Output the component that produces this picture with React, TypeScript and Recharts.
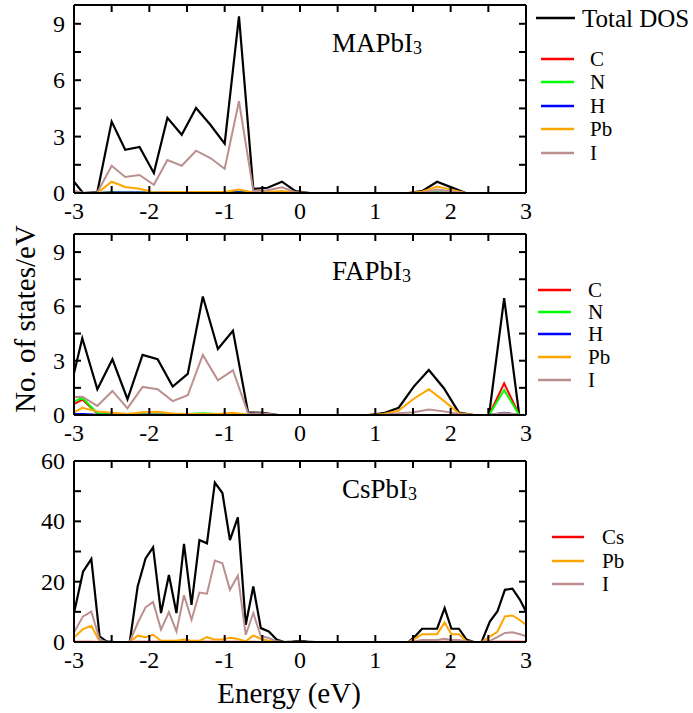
import { Line, LineChart, XAxis, YAxis } from "recharts";

const FONT = '"Liberation Serif", "Times New Roman", serif';
const TICK = 7;
const AXIS = { stroke: "#000", strokeWidth: 2 };

const xTicks = [-3, -2.5, -2, -1.5, -1, -0.5, 0, 0.5, 1, 1.5, 2, 2.5, 3];
const yTicksSmall = [0, 1.5, 3, 4.5, 6, 7.5, 9];
const yTicksCs = [0, 10, 20, 30, 40, 50, 60];

// MAPbI3
const mapE = [-3.0, -2.88, -2.69, -2.5, -2.32, -2.13, -1.94, -1.76, -1.57, -1.38, -1.19, -1.0, -0.81, -0.62, -0.43, -0.24, -0.06, 0.13, 1.44, 1.63, 1.82, 2.01, 2.2, 3.0];
const mapTotal = [0.6, 0, 0.05, 3.8, 2.3, 2.45, 1.06, 4.0, 3.1, 4.52, 3.63, 2.62, 9.4, 0.22, 0.28, 0.6, 0.1, 0, 0, 0.12, 0.6, 0.3, 0, 0];
const mapC = [0.01, 0, 0, 0.02, 0.01, 0.01, 0, 0.01, 0.01, 0.01, 0.01, 0.01, 0.02, 0, 0, 0, 0, 0, 0, 0, 0.01, 0, 0, 0];
const mapN = [0.03, 0, 0, 0.04, 0.03, 0.03, 0.01, 0.03, 0.02, 0.03, 0.03, 0.02, 0.05, 0.01, 0.01, 0.01, 0, 0, 0, 0, 0.02, 0.01, 0, 0];
const mapH = [0.02, 0, 0, 0.03, 0.02, 0.02, 0.01, 0.02, 0.02, 0.02, 0.02, 0.02, 0.04, 0.01, 0.01, 0.01, 0, 0, 0, 0, 0.01, 0, 0, 0];
const mapPb = [0.05, 0, 0, 0.6, 0.32, 0.23, 0.03, 0.05, 0.05, 0.05, 0.05, 0.05, 0.18, 0.03, 0.05, 0.1, 0.02, 0, 0, 0.08, 0.34, 0.18, 0, 0];
const mapI = [0.12, 0, 0.03, 1.45, 0.85, 0.96, 0.44, 1.75, 1.45, 2.25, 1.86, 1.29, 4.88, 0.12, 0.15, 0.3, 0.04, 0, 0, 0.03, 0.18, 0.08, 0, 0];

// FAPbI3
const faE = [-3.0, -2.89, -2.69, -2.49, -2.29, -2.09, -1.89, -1.69, -1.49, -1.29, -1.09, -0.89, -0.69, -0.49, -0.29, 0.91, 1.11, 1.31, 1.51, 1.71, 1.91, 2.11, 2.31, 2.51, 2.71, 2.91, 3.0];
const faTotal = [2.3, 4.24, 1.42, 3.08, 0.87, 3.32, 3.08, 1.57, 2.27, 6.55, 3.65, 4.65, 0.15, 0.12, 0, 0, 0.1, 0.4, 1.57, 2.49, 1.48, 0.13, 0, 0, 6.46, 0, 0];
const faC = [0.6, 0.85, 0.08, 0.03, 0.02, 0.02, 0.02, 0.02, 0.03, 0.05, 0.03, 0.03, 0, 0, 0, 0, 0, 0, 0, 0, 0, 0, 0, 0, 1.75, 0, 0];
const faN = [0.74, 0.95, 0.1, 0.05, 0.03, 0.03, 0.03, 0.03, 0.05, 0.1, 0.05, 0.05, 0, 0, 0, 0, 0, 0, 0, 0, 0, 0, 0, 0, 1.38, 0, 0];
const faH = [0.05, 0.05, 0.02, 0.02, 0.01, 0.01, 0.01, 0.01, 0.01, 0.02, 0.01, 0.01, 0, 0, 0, 0, 0, 0, 0, 0, 0, 0, 0, 0, 0.13, 0, 0];
const faPb = [0.15, 0.4, 0.2, 0.12, 0.05, 0.15, 0.18, 0.08, 0.05, 0.05, 0.05, 0.12, 0.02, 0.02, 0, 0, 0.05, 0.24, 0.9, 1.42, 0.78, 0.1, 0, 0, 0.1, 0, 0];
const faI = [1.0, 1.01, 0.5, 1.33, 0.37, 1.55, 1.42, 0.77, 1.09, 3.32, 1.92, 2.47, 0.1, 0.08, 0, 0, 0.02, 0.1, 0.15, 0.3, 0.2, 0.05, 0, 0, 0.08, 0, 0];

// CsPbI3
const csE = [-3.0, -2.88, -2.77, -2.66, -2.57, -2.46, -2.26, -2.155, -2.05, -1.95, -1.845, -1.74, -1.64, -1.54, -1.44, -1.335, -1.235, -1.13, -1.03, -0.93, -0.825, -0.72, -0.62, -0.52, -0.415, -0.31, -0.21, -0.1, 0.0, 0.1, 0.2, 1.44, 1.54, 1.62, 1.72, 1.82, 1.92, 2.01, 2.11, 2.21, 2.31, 2.41, 2.52, 2.62, 2.72, 2.82, 2.92, 3.0];
const csTotal = [9.6, 23.3, 27.5, 1.9, 0.2, 0, 0, 18.4, 27.7, 31.4, 9.6, 22.2, 9.6, 32.5, 12.3, 33.8, 32.7, 52.8, 49.4, 33.8, 41.3, 5.7, 18.4, 4.6, 3.5, 0.8, 0, 0.1, 0.4, 0.1, 0, 0, 2.2, 4.4, 4.4, 4.4, 11.2, 4.4, 4.4, 0.8, 0, 0, 6.8, 10.1, 17.3, 17.7, 14.0, 10.1];
const csCs = [0.05, 0.1, 0.1, 0, 0, 0, 0, 0.05, 0.1, 0.1, 0.05, 0.05, 0.05, 0.1, 0.05, 0.1, 0.1, 0.1, 0.1, 0.1, 0.1, 0, 0.05, 0, 0, 0, 0, 0, 0, 0, 0, 0, 0, 0.05, 0.05, 0.05, 0.05, 0.05, 0.05, 0, 0, 0, 0.05, 0.1, 0.1, 0.1, 0.1, 0.1];
const csPb = [1.5, 4.3, 5.4, 0.2, 0, 0, 0, 2.1, 1.6, 2.4, 0.4, 0.4, 0.4, 0.8, 0.4, 0.4, 1.6, 0.8, 0.8, 1.4, 1.0, 0.2, 2.2, 1.0, 0.4, 0.2, 0, 0, 0.1, 0, 0, 0, 1.3, 2.6, 2.6, 2.6, 6.5, 2.6, 2.6, 0.2, 0, 0, 1.8, 3.4, 8.5, 8.8, 7.2, 5.7];
const csI = [3.2, 8.5, 10.1, 0.8, 0, 0, 0, 6.3, 11.5, 13.3, 4.1, 9.9, 3.5, 15.5, 7.4, 16.4, 16.0, 27.0, 26.1, 17.3, 22.0, 2.4, 9.6, 1.9, 1.3, 0.2, 0, 0, 0.1, 0, 0, 0, 0.3, 0.7, 0.7, 0.7, 1.1, 0.7, 0.7, 0.2, 0, 0, 0.4, 1.6, 3.0, 3.2, 2.6, 1.9];

const COLORS: Record<string, string> = {
  total: "#000000",
  C: "#ff0000",
  Cs: "#ff0000",
  N: "#00ff00",
  H: "#0000ff",
  Pb: "#ffa500",
  I: "#bc8f8f",
};

type Row = Record<string, number>;

function rows(e: number[], cols: Record<string, number[]>): Row[] {
  return e.map((x, i) => {
    const r: Row = { e: x };
    for (const k of Object.keys(cols)) r[k] = cols[k][i];
    return r;
  });
}

const mapData = rows(mapE, { total: mapTotal, C: mapC, N: mapN, H: mapH, Pb: mapPb, I: mapI });
const faData = rows(faE, { total: faTotal, C: faC, N: faN, H: faH, Pb: faPb, I: faI });
const csData = rows(csE, { total: csTotal, Cs: csCs, Pb: csPb, I: csI });

function BottomTick(p: any) {
  const v = p.payload.value;
  return (
    <g>
      <line x1={p.x} y1={p.y} x2={p.x} y2={p.y - TICK} stroke="#000" strokeWidth={2} />
      {Number.isInteger(v) && (
        <text x={p.x} y={p.y + 26} textAnchor="middle" fontSize={24} fontFamily={FONT} fill="#000">
          {v}
        </text>
      )}
    </g>
  );
}

function TopTick(p: any) {
  return <line x1={p.x} y1={p.y} x2={p.x} y2={p.y + TICK} stroke="#000" strokeWidth={2} />;
}

function LeftTick(p: any) {
  const v = p.payload.value;
  return (
    <g>
      <line x1={p.x} y1={p.y} x2={p.x + TICK} y2={p.y} stroke="#000" strokeWidth={2} />
      {v % p.step === 0 && (
        <text x={p.x - 9} y={p.y + 8} textAnchor="end" fontSize={24} fontFamily={FONT} fill="#000">
          {v}
        </text>
      )}
    </g>
  );
}

function RightTick(p: any) {
  return <line x1={p.x} y1={p.y} x2={p.x - TICK} y2={p.y} stroke="#000" strokeWidth={2} />;
}

type PanelProps = {
  data: Row[];
  keys: string[];
  top: number;
  height: number;
  mt: number;
  mb: number;
  yMax: number;
  yTicks: number[];
  step: number;
};

function Panel({ data, keys, top, height, mt, mb, yMax, yTicks, step }: PanelProps) {
  return (
    <div style={{ position: "absolute", left: 0, top, width: 693, height }}>
      <LineChart width={693} height={height} data={data} margin={{ top: mt, right: 147, bottom: mb, left: 0 }}>
        <XAxis
          xAxisId="b"
          dataKey="e"
          type="number"
          domain={[-3, 3]}
          ticks={xTicks}
          interval={0}
          allowDataOverflow
          height={30}
          tickSize={0}
          tickMargin={0}
          tickLine={false}
          axisLine={AXIS}
          tick={(p: any) => <BottomTick {...p} />}
        />
        <XAxis
          xAxisId="t"
          orientation="top"
          dataKey="e"
          type="number"
          domain={[-3, 3]}
          ticks={xTicks}
          interval={0}
          allowDataOverflow
          height={5}
          tickSize={0}
          tickMargin={0}
          tickLine={false}
          axisLine={AXIS}
          tick={(p: any) => <TopTick {...p} />}
        />
        <YAxis
          yAxisId="l"
          type="number"
          domain={[0, yMax]}
          ticks={yTicks}
          interval={0}
          allowDataOverflow
          width={74}
          tickSize={0}
          tickMargin={0}
          tickLine={false}
          axisLine={AXIS}
          tick={(p: any) => <LeftTick {...p} step={step} />}
        />
        <YAxis
          yAxisId="r"
          orientation="right"
          type="number"
          domain={[0, yMax]}
          ticks={yTicks}
          interval={0}
          allowDataOverflow
          width={20}
          tickSize={0}
          tickMargin={0}
          tickLine={false}
          axisLine={AXIS}
          tick={(p: any) => <RightTick {...p} />}
        />
        {keys.map((k) => (
          <Line
            key={k}
            xAxisId="b"
            yAxisId="l"
            type="linear"
            dataKey={k}
            stroke={COLORS[k]}
            strokeWidth={k === "total" ? 2.2 : 2}
            dot={false}
            activeDot={false}
            isAnimationActive={false}
          />
        ))}
      </LineChart>
    </div>
  );
}

function LegendItem({ x1, x2, y, tx, label, color, size = 21 }: any) {
  return (
    <g>
      <line x1={x1} y1={y} x2={x2} y2={y} stroke={color} strokeWidth={2.5} />
      <text x={tx} y={y + 7} fontSize={size} fontFamily={FONT} fill="#000">
        {label}
      </text>
    </g>
  );
}

function Title({ x, y, name }: { x: number; y: number; name: string }) {
  return (
    <text x={x} y={y} fontSize={27} fontFamily={FONT} fill="#000">
      {name}
      <tspan fontSize={18} dy={2}>3</tspan>
    </text>
  );
}

const legend1 = ["C", "N", "H", "Pb", "I"];
const legend1Y = [59, 82, 106, 129, 153];
const legend2Y = [290, 312, 334, 357, 380];
const legend3 = ["Cs", "Pb", "I"];
const legend3Y = [537, 561, 584];

export default function App() {
  return (
    <div style={{ position: "absolute", left: 0, top: 0, width: 693, height: 713, background: "#fff" }}>
      <Panel data={mapData} keys={["total", "C", "N", "H", "Pb", "I"]} top={0} height={240} mt={0} mb={17} yMax={10} yTicks={yTicksSmall} step={3} />
      <Panel data={faData} keys={["total", "C", "N", "H", "Pb", "I"]} top={220} height={240} mt={9} mb={15} yMax={10} yTicks={yTicksSmall} step={3} />
      <Panel data={csData} keys={["total", "Cs", "Pb", "I"]} top={445} height={268} mt={11} mb={41} yMax={60} yTicks={yTicksCs} step={20} />
      <svg width={693} height={713} style={{ position: "absolute", left: 0, top: 0, pointerEvents: "none" }}>
        <Title x={332} y={52} name="MAPbI" />
        <Title x={332} y={280} name="FAPbI" />
        <Title x={342} y={498} name="CsPbI" />
        <line x1={536} y1={18} x2={575} y2={18} stroke="#000" strokeWidth={2.5} />
        <text x={582} y={27} fontSize={25} fontFamily={FONT} fill="#000">Total DOS</text>
        {legend1.map((k, i) => (
          <LegendItem key={"a" + k} x1={541} x2={574} y={legend1Y[i]} tx={590} label={k} color={COLORS[k]} />
        ))}
        {legend1.map((k, i) => (
          <LegendItem key={"b" + k} x1={538} x2={571} y={legend2Y[i]} tx={588} label={k} color={COLORS[k]} />
        ))}
        {legend3.map((k, i) => (
          <LegendItem key={"c" + k} x1={552} x2={584} y={legend3Y[i]} tx={602} label={k} color={COLORS[k]} />
        ))}
        <text transform="translate(35,319) rotate(-90)" textAnchor="middle" fontSize={29} fontFamily={FONT} fill="#000">
          No. of states/eV
        </text>
        <text x={289} y={703} textAnchor="middle" fontSize={29} fontFamily={FONT} fill="#000">
          Energy (eV)
        </text>
      </svg>
    </div>
  );
}
